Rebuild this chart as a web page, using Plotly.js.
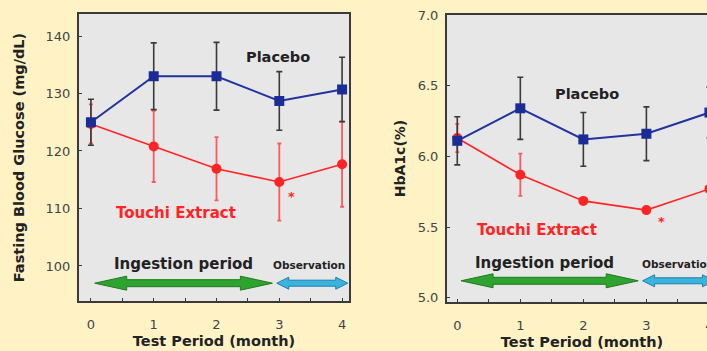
<!DOCTYPE html>
<html>
<head>
<meta charset="utf-8">
<script src="https://cdn.plot.ly/plotly-3.0.1.min.js"></script>
<style>
html,body{margin:0;padding:0;overflow:hidden;background:#FFF3C6;}
#chart{width:725px;height:351px;}
</style>
</head>
<body>
<div id="chart"></div>
<script>
// ---- data ----
const months = [0, 1, 2, 3, 4];
const monthLabels = ['0', '1', '2', '3', '4'];
const seriesNames = ['Placebo', 'Touchi Extract'];

const glucosePlacebo    = [125.0, 133.0, 133.0, 128.7, 130.7];
const glucosePlaceboErr = [4.0, 5.8, 5.9, 5.1, 5.6];
const glucoseTouchi     = [124.7, 120.8, 116.9, 114.6, 117.7];
const glucoseTouchiErr  = [3.4, 6.2, 5.5, 6.7, 7.4];

const hba1cPlacebo    = [6.11, 6.34, 6.12, 6.16, 6.31];
const hba1cPlaceboErr = [0.17, 0.22, 0.19, 0.19, 0.18];
const hba1cTouchi     = [6.13, 5.87, 5.685, 5.62, 5.77];
const hba1cTouchiErr  = [0.10, 0.15, 0, 0, 0];

const glucoseTicks = [100, 110, 120, 130, 140];
const hba1cTicks = [5.0, 5.5, 6.0, 6.5, 7.0];

// ---- layout geometry ----
const W = 725, H = 351;
const FONT = 'DejaVu Sans, Verdana, sans-serif';
const BLUE = '#22339C', RED = '#FF2424';

const x1dom = [79 / W, 349 / W], x2dom = [447 / W, 717 / W];
const y1dom = [(H - 301) / H, (H - 14) / H], y2dom = [(H - 302) / H, (H - 15) / H];
const x1range = [-0.19, 4.11], x2range = [-0.163, 4.12];
const y1range = [93.9, 143.83], y2range = [4.97, 7.0];

function pxScale(dom, range, total) {
  return (dom[1] - dom[0]) * total / (range[1] - range[0]);
}

function arrowPath(x0, x1, yc, sx, sy, hl, hh, bh) {
  // sx, sy : pixels per data unit
  const dx = hl / sx, H1 = hh / sy, B = bh / sy;
  const pts = [
    [x0, yc], [x0 + dx, yc + H1], [x0 + dx, yc + B], [x1 - dx, yc + B], [x1 - dx, yc + H1],
    [x1, yc], [x1 - dx, yc - H1], [x1 - dx, yc - B], [x0 + dx, yc - B], [x0 + dx, yc - H1]
  ];
  return 'M' + pts.map(p => p[0] + ',' + p[1]).join(' L') + ' Z';
}

function traces(xa, ya, plc, plcErr, tch, tchErr) {
  return [
    {
      x: months, y: tch, xaxis: xa, yaxis: ya, type: 'scatter', mode: 'lines+markers',
      name: seriesNames[1], cliponaxis: false,
      line: {color: RED, width: 1.6},
      marker: {symbol: 'circle', size: 10, color: RED},
      error_y: {type: 'data', array: tchErr, visible: true, color: '#FF5A5A', thickness: 1.8, width: 2}
    },
    {
      x: months, y: plc, xaxis: xa, yaxis: ya, type: 'scatter', mode: 'lines+markers',
      name: seriesNames[0], cliponaxis: false,
      line: {color: BLUE, width: 2},
      marker: {symbol: 'square', size: 10, color: '#1C2C96'},
      error_y: {type: 'data', array: plcErr, visible: true, color: '#3A3A3A', thickness: 1.6, width: 3}
    }
  ];
}

const data = [].concat(
  traces('x', 'y', glucosePlacebo, glucosePlaceboErr, glucoseTouchi, glucoseTouchiErr),
  traces('x2', 'y2', hba1cPlacebo, hba1cPlaceboErr, hba1cTouchi, hba1cTouchiErr)
);

const axisCommon = {
  showgrid: false, zeroline: false, showline: true, mirror: true,
  linecolor: '#3A3A3A', linewidth: 2, ticks: 'inside', ticklen: 3, tickcolor: '#3A3A3A',
  tickfont: {family: FONT, size: 13, color: '#444'}
};

function xaxisDef(dom, range) {
  return Object.assign({}, axisCommon, {
    domain: dom, range: range, tickvals: months, ticktext: monthLabels,
    ticklabelstandoff: 10,
    minor: {dtick: 0.5, tick0: 0, ticks: 'inside', ticklen: 3, tickcolor: '#3A3A3A'},
    title: {text: 'Test Period (month)', font: {family: FONT, size: 14.5, color: '#222', weight: 'bold'}, standoff: 5}
  });
}

const sx1 = pxScale(x1dom, x1range, W), sy1 = pxScale(y1dom, y1range, H);
const sx2 = pxScale(x2dom, x2range, W), sy2 = pxScale(y2dom, y2range, H);

const GREEN = '#2FA32F', GREEN_LINE = '#1F7A1F', CYAN = '#3AB4DE', CYAN_LINE = '#1F7FA8';

const shapes = [
  {type: 'path', xref: 'x', yref: 'y', path: arrowPath(0.06, 2.89, 97.0, sx1, sy1, 32, 7, 3.5), fillcolor: GREEN, line: {color: GREEN_LINE, width: 1}},
  {type: 'path', xref: 'x', yref: 'y', path: arrowPath(2.96, 4.09, 97.0, sx1, sy1, 12, 6, 3), fillcolor: CYAN, line: {color: CYAN_LINE, width: 1}},
  {type: 'path', xref: 'x2', yref: 'y2', path: arrowPath(0.06, 2.87, 5.12, sx2, sy2, 32, 7, 3.5), fillcolor: GREEN, line: {color: GREEN_LINE, width: 1}},
  {type: 'path', xref: 'x2', yref: 'y2', path: arrowPath(2.94, 4.08, 5.12, sx2, sy2, 12, 6, 3), fillcolor: CYAN, line: {color: CYAN_LINE, width: 1}}
];

function ann(xref, yref, x, y, text, size, color) {
  return {xref: xref, yref: yref, x: x, y: y, text: text, showarrow: false,
    font: {family: FONT, size: size, color: color, weight: 'bold'}, xanchor: 'center', yanchor: 'middle'};
}

const annotations = [
  ann('x', 'y', 2.98, 136.3, 'Placebo', 14.5, '#222'),
  ann('x', 'y', 1.36, 109.2, 'Touchi Extract', 15, RED),
  ann('x', 'y', 1.48, 100.4, 'Ingestion period', 15, '#222'),
  ann('x', 'y', 3.48, 100.2, 'Observation', 10.5, '#222'),
  ann('x', 'y', 3.2, 112.0, '*', 13, RED),
  ann('x2', 'y2', 2.05, 6.44, 'Placebo', 14.5, '#222'),
  ann('x2', 'y2', 1.26, 5.48, 'Touchi Extract', 15, RED),
  ann('x2', 'y2', 1.39, 5.245, 'Ingestion period', 15, '#222'),
  ann('x2', 'y2', 3.5, 5.24, 'Observation', 10.5, '#222'),
  ann('x2', 'y2', 3.24, 5.54, '*', 13, RED)
];

const layout = {
  width: W, height: H,
  margin: {l: 0, r: 0, t: 0, b: 0},
  paper_bgcolor: '#FFF3C6', plot_bgcolor: '#E7E7E7',
  showlegend: false,
  font: {family: FONT},
  xaxis: xaxisDef(x1dom, x1range),
  xaxis2: Object.assign(xaxisDef(x2dom, x2range), {anchor: 'y2'}),
  yaxis: Object.assign({}, axisCommon, {
    domain: y1dom, range: y1range, tickvals: glucoseTicks, ticklabelstandoff: 4,
    title: {text: 'Fasting Blood Glucose (mg/dL)', font: {family: FONT, size: 14.5, color: '#222', weight: 'bold'}, standoff: 17}
  }),
  yaxis2: Object.assign({}, axisCommon, {
    domain: y2dom, range: y2range, tickvals: hba1cTicks, tickformat: '.1f', anchor: 'x2', ticklabelstandoff: 4,
    title: {text: 'HbA1c(%)', font: {family: FONT, size: 14, color: '#222', weight: 'bold'}, standoff: 9}
  }),
  shapes: shapes,
  annotations: annotations
};

Plotly.newPlot('chart', data, layout, {staticPlot: true, displayModeBar: false});
</script>
</body>
</html>
